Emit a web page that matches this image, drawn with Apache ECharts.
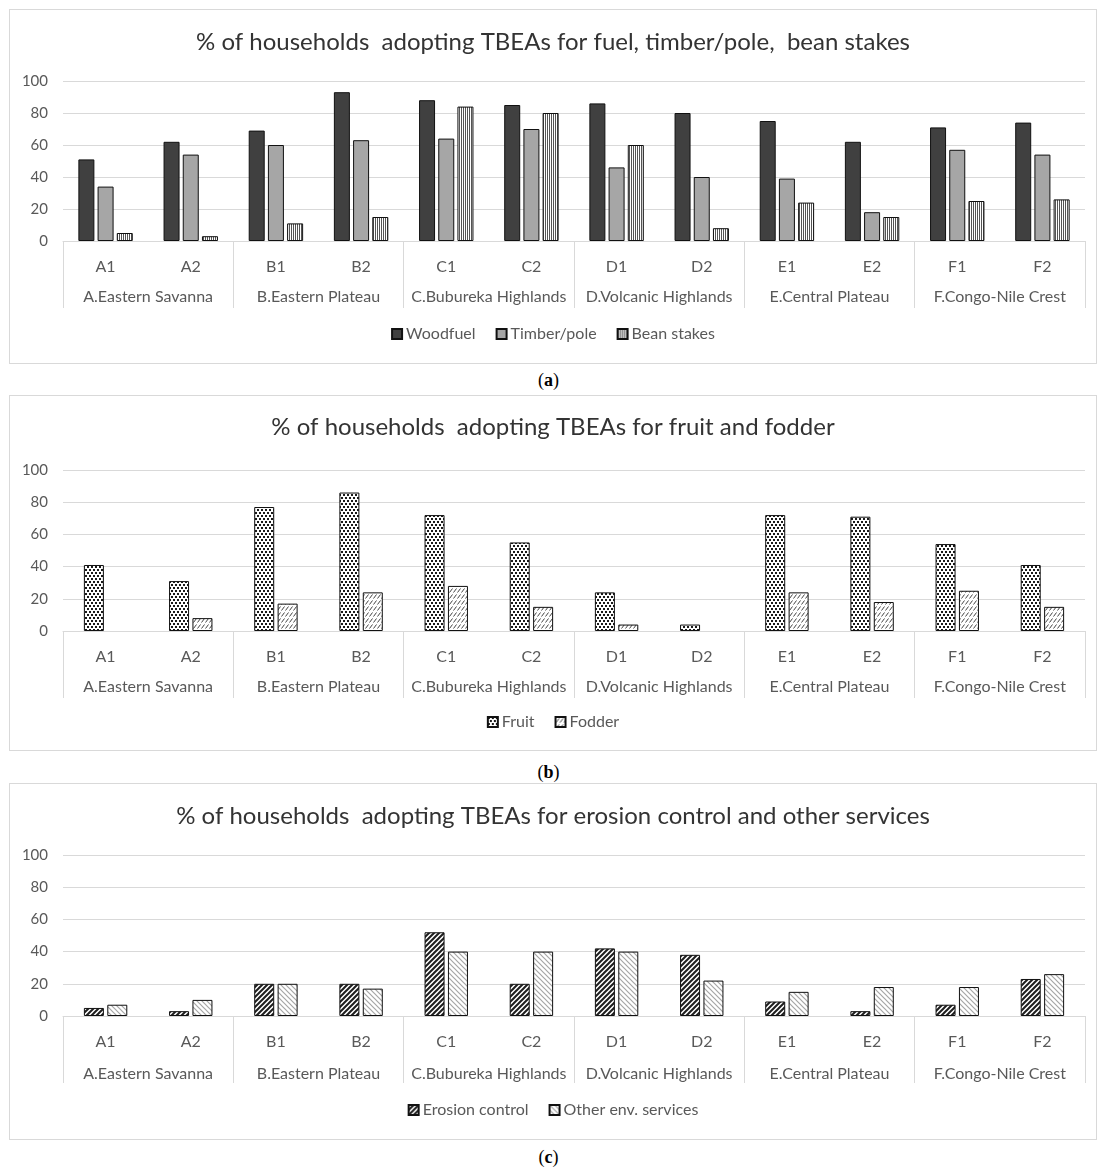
<!DOCTYPE html>
<html>
<head>
<meta charset="utf-8">
<script src="https://cdn.jsdelivr.net/npm/echarts@6/dist/echarts.min.js"></script>
<style>
  body { margin: 0; background: #fff; width: 1097px; height: 1169px; position: relative; }
  .panel { position: absolute; left: 9px; width: 1088px; outline: 1px solid #d9d9d9; outline-offset: -1px; }
  .cap { position: absolute; left: 0; width: 1097px; text-align: center; font-family: "Liberation Serif", serif; font-size: 18px; color: #000; }
</style>
</head>
<body>
<div id="chart-a" class="panel" style="top:9px;height:355px"></div>
<div class="cap" style="top:370px">(<b>a</b>)</div>
<div id="chart-b" class="panel" style="top:395px;height:356px"></div>
<div class="cap" style="top:762px">(<b>b</b>)</div>
<div id="chart-c" class="panel" style="top:783px;height:357px"></div>
<div class="cap" style="top:1147px">(<b>c</b>)</div>
<script>
// sub-regions and regions
const subCats = ['A1', 'A2', 'B1', 'B2', 'C1', 'C2', 'D1', 'D2', 'E1', 'E2', 'F1', 'F2'];
const regions = ['A.Eastern Savanna', 'B.Eastern Plateau', 'C.Bubureka Highlands',
                 'D.Volcanic Highlands', 'E.Central Plateau', 'F.Congo-Nile Crest'];

// (a) fuel, timber/pole, bean stakes
const woodfuel   = [51, 62, 69, 93, 88, 85, 86, 80, 75, 62, 71, 74];
const timberPole = [34, 54, 60, 63, 64, 70, 46, 40, 39, 18, 57, 54];
const beanStakes = [5, 3, 11, 15, 84, 80, 60, 8, 24, 15, 25, 26];

// (b) fruit and fodder
const fruit  = [41, 31, 77, 86, 72, 55, 24, 4, 72, 71, 54, 41];
const fodder = [0, 8, 17, 24, 28, 15, 4, 0, 24, 18, 25, 15];

// (c) erosion control and other services
const erosion  = [5, 3, 20, 20, 52, 20, 42, 38, 9, 3, 7, 23];
const otherEnv = [7, 10, 20, 17, 40, 40, 40, 22, 15, 18, 18, 26];

const FONT = 'Lato, "Open Sans", sans-serif';

// small canvas tiles for the Excel-like fill patterns
function pattern(w, h, draw) {
  const c = document.createElement('canvas');
  c.width = w; c.height = h;
  const ctx = c.getContext('2d');
  ctx.fillStyle = '#fff';
  ctx.fillRect(0, 0, w, h);
  draw(ctx);
  return { image: c, repeat: 'repeat' };
}

const pat = {
  vertical: pattern(2, 4, ctx => { ctx.fillStyle = '#555'; ctx.fillRect(0, 0, 1, 4); }),
  dots: pattern(4, 6, ctx => {
    ctx.fillStyle = '#1a1a1a';
    ctx.fillRect(0, 0, 2, 2);
    ctx.fillRect(2, 3, 2, 2);
  }),
  dashes: pattern(8, 6, ctx => {
    ctx.strokeStyle = '#444'; ctx.lineWidth = 1;
    ctx.beginPath();
    ctx.moveTo(0.5, 5.5); ctx.lineTo(3.5, 1.5);
    ctx.moveTo(4.5, 5.5); ctx.lineTo(7.5, 1.5);
    ctx.stroke();
  }),
  upDiag: pattern(5, 5, ctx => {
    ctx.strokeStyle = '#1e1e1e'; ctx.lineWidth = 2;
    ctx.beginPath();
    ctx.moveTo(-1, 6); ctx.lineTo(6, -1);
    ctx.moveTo(-1, 1); ctx.lineTo(1, -1);
    ctx.moveTo(4, 6); ctx.lineTo(6, 4);
    ctx.stroke();
  }),
  downDiag: pattern(5, 5, ctx => {
    ctx.strokeStyle = '#a6a6a6'; ctx.lineWidth = 1.2;
    ctx.beginPath();
    ctx.moveTo(-1, -1); ctx.lineTo(6, 6);
    ctx.moveTo(4, -1); ctx.lineTo(6, 1);
    ctx.moveTo(-1, 4); ctx.lineTo(1, 6);
    ctx.stroke();
  })
};

function bar(name, data, color, width, gap) {
  return {
    name: name,
    type: 'bar',
    // zero values draw nothing, like the original
    data: data.map(v => (v === 0 ? null : v)),
    barWidth: width,
    barGap: gap,
    itemStyle: { color: color, borderColor: '#111', borderWidth: 1 },
    emphasis: { disabled: true }
  };
}

function buildOption(title, layout, series) {
  return {
    animation: false,
    textStyle: { fontFamily: FONT },
    title: {
      text: title,
      left: 'center',
      top: layout.titleTop,
      padding: 0,
      textStyle: { fontFamily: FONT, fontSize: 24, fontWeight: 'normal', color: '#333' }
    },
    legend: {
      top: layout.legendTop,
      left: 'center',
      padding: 0,
      icon: 'rect',
      itemWidth: 10,
      itemHeight: 10,
      itemGap: 20,
      textStyle: { fontFamily: FONT, fontSize: 16, color: '#595959', padding: [0, 0, 0, -1] }
    },
    grid: { left: 54, right: 12, top: layout.gridTop, bottom: layout.gridBottom },
    xAxis: [{
      type: 'category',
      data: subCats,
      position: 'bottom',
      axisLine: { lineStyle: { color: '#d9d9d9' } },
      axisTick: { show: false },
      axisLabel: { interval: 0, margin: 18, fontSize: 16, color: '#595959', fontFamily: FONT }
    }, {
      type: 'category',
      data: regions,
      position: 'bottom',
      axisLine: { show: false },
      axisTick: { show: true, interval: 0, length: 67, lineStyle: { color: '#d9d9d9' } },
      axisLabel: { interval: 0, margin: layout.groupMargin, fontSize: 16, color: '#595959', fontFamily: FONT }
    }],
    yAxis: {
      type: 'value',
      min: 0,
      max: 100,
      interval: 20,
      axisLine: { show: false },
      axisTick: { show: false },
      splitLine: { lineStyle: { color: '#d9d9d9' } },
      axisLabel: { margin: 15, fontSize: 15, color: '#595959', fontFamily: FONT }
    },
    series: series
  };
}

const chartA = echarts.init(document.getElementById('chart-a'));
chartA.setOption(buildOption(
  '% of households  adopting TBEAs for fuel, timber/pole,  bean stakes',
  { titleTop: 21, legendTop: 317, gridTop: 72, gridBottom: 123, groupMargin: 48 },
  [
    bar('Woodfuel', woodfuel, '#404040', 16, '20%'),
    bar('Timber/pole', timberPole, '#a6a6a6', 16, '20%'),
    bar('Bean stakes', beanStakes, pat.vertical, 16, '20%')
  ]
));

const chartB = echarts.init(document.getElementById('chart-b'));
chartB.setOption(buildOption(
  '% of households  adopting TBEAs for fruit and fodder',
  { titleTop: 20, legendTop: 319, gridTop: 75, gridBottom: 120, groupMargin: 48 },
  [
    bar('Fruit', fruit, pat.dots, 20, '17%'),
    bar('Fodder', fodder, pat.dashes, 20, '17%')
  ]
));

const chartC = echarts.init(document.getElementById('chart-c'));
chartC.setOption(buildOption(
  '% of households  adopting TBEAs for erosion control and other services',
  { titleTop: 21, legendTop: 319, gridTop: 72, gridBottom: 124, groupMargin: 50 },
  [
    bar('Erosion control', erosion, pat.upDiag, 20, '17%'),
    bar('Other env. services', otherEnv, pat.downDiag, 20, '17%')
  ]
));
</script>
</body>
</html>
